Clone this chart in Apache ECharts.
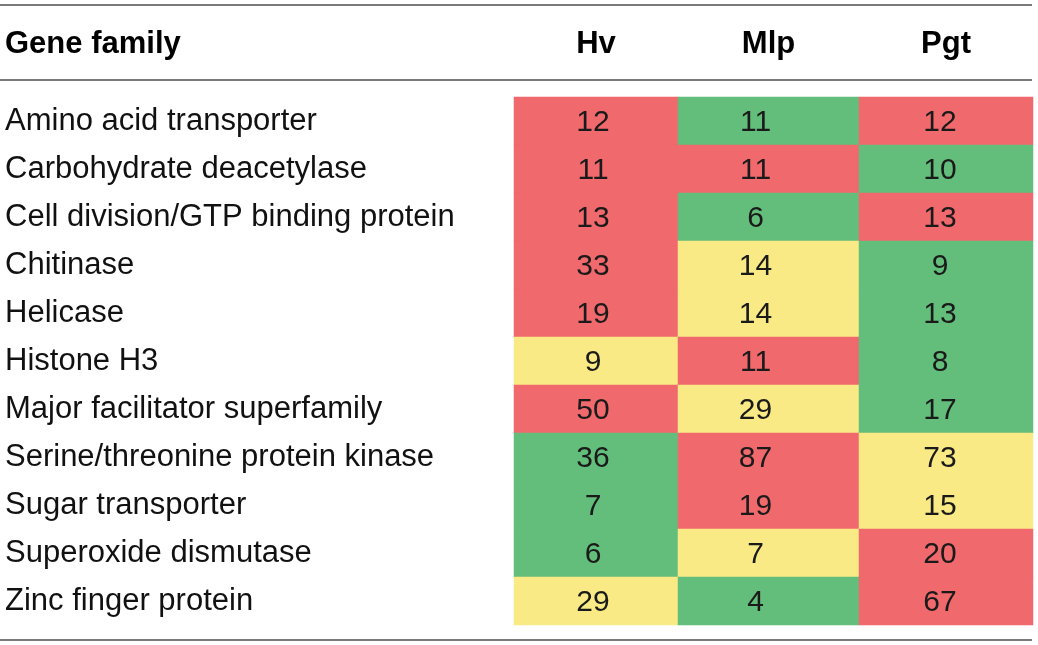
<!DOCTYPE html>
<html>
<head>
<meta charset="utf-8">
<script src="https://cdn.jsdelivr.net/npm/echarts@6/dist/echarts.min.js"></script>
<style>
html,body{margin:0;padding:0;background:#fff;}
#chart{width:1038px;height:645px;}
</style>
</head>
<body>
<div id="chart"></div>
<script>
const headerLabel = 'Gene family';
const columns = ['Hv', 'Mlp', 'Pgt'];
const geneFamilies = [
  'Amino acid transporter',
  'Carbohydrate deacetylase',
  'Cell division/GTP binding protein',
  'Chitinase',
  'Helicase',
  'Histone H3',
  'Major facilitator superfamily',
  'Serine/threonine protein kinase',
  'Sugar transporter',
  'Superoxide dismutase',
  'Zinc finger protein'
];
const hvValues  = [12, 11, 13, 33, 19, 9, 50, 36, 7, 6, 29];
const mlpValues = [11, 11, 6, 14, 14, 11, 29, 87, 19, 7, 4];
const pgtValues = [12, 10, 13, 9, 13, 8, 17, 73, 15, 20, 67];

const colValues = [hvValues, mlpValues, pgtValues];
// rank level within each row: 2 = highest (red), 0 = lowest (green), 1 = middle (yellow)
function level(col, row) {
  const rowVals = colValues.map(a => a[row]);
  const v = colValues[col][row];
  const mx = Math.max(...rowVals), mn = Math.min(...rowVals);
  if (v === mx) return 2;
  if (v === mn) return 0;
  return 1;
}

const FONT = "'Liberation Sans', Helvetica, Arial, sans-serif";
const gridDefs = [
  {left: 514, width: 164, offset: -3},
  {left: 678, width: 181, offset: -13},
  {left: 859, width: 174, offset: -6}
];

const grids = [], xAxes = [], yAxes = [], series = [];
gridDefs.forEach((g, i) => {
  grids.push({left: g.left, width: g.width, top: 97, height: 528});
  xAxes.push({
    type: 'category', gridIndex: i, position: 'top', data: [columns[i]],
    axisLine: {show: false}, axisTick: {show: false}, splitLine: {show: false},
    axisLabel: {margin: 53, verticalAlign: 'middle', fontFamily: FONT, fontSize: 31,
      fontWeight: 'bold', color: '#000'}
  });
  yAxes.push({
    type: 'category', gridIndex: i, data: geneFamilies, inverse: true,
    axisLine: {show: false}, axisTick: {show: false}, splitLine: {show: false},
    axisLabel: i === 0 ? {show: true, align: 'left', margin: 509, fontFamily: FONT,
      fontSize: 31, color: '#111', verticalAlign: 'middle', padding: [10, 0, 0, 0]} : {show: false}
  });
  series.push({
    type: 'heatmap', xAxisIndex: i, yAxisIndex: i,
    data: colValues[i].map((v, r) => [0, r, v, level(i, r)]),
    label: {show: true, formatter: p => p.value[2], fontFamily: FONT, fontSize: 30,
      color: '#1a1a1a', offset: [g.offset, 2]},
    itemStyle: {borderWidth: 0},
    emphasis: {disabled: true}
  });
});

const chart = echarts.init(document.getElementById('chart'));
chart.setOption({
  animation: false,
  grid: grids,
  xAxis: xAxes,
  yAxis: yAxes,
  visualMap: {
    type: 'piecewise', show: false, dimension: 3, seriesIndex: [0, 1, 2],
    pieces: [
      {value: 0, color: '#64BE7B'},
      {value: 1, color: '#F9EA85'},
      {value: 2, color: '#F0696C'}
    ]
  },
  title: {
    text: headerLabel, left: 5, top: 44, textVerticalAlign: 'middle',
    textStyle: {fontFamily: FONT, fontSize: 31, fontWeight: 'bold', color: '#000'},
    padding: 0
  },
  graphic: [
    {type: 'line', shape: {x1: 0, y1: 5, x2: 1032, y2: 5}, style: {stroke: '#7a7a7a', lineWidth: 2}},
    {type: 'line', shape: {x1: 0, y1: 80, x2: 1032, y2: 80}, style: {stroke: '#7a7a7a', lineWidth: 2}},
    {type: 'line', shape: {x1: 0, y1: 640, x2: 1032, y2: 640}, style: {stroke: '#7a7a7a', lineWidth: 2}}
  ],
  series: series
});
</script>
</body>
</html>
